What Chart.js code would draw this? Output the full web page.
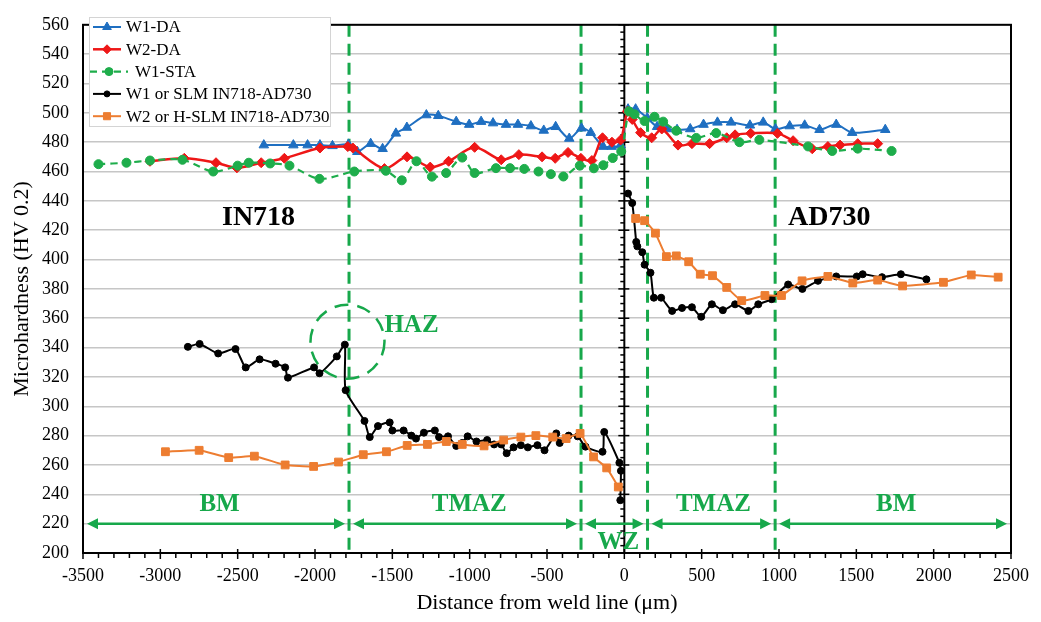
<!DOCTYPE html>
<html>
<head>
<meta charset="utf-8">
<script src="https://cdn.jsdelivr.net/npm/chart.js@4.4.1/dist/chart.umd.min.js"></script>
<style>
  html, body { margin: 0; padding: 0; background: #fff; }
</style>
</head>
<body>
<canvas id="chart" width="1041" height="622"></canvas>
<script>
const SERIF = '"Liberation Serif", "Times New Roman", serif';
const GREEN = '#17a84b';

// W1-DA (blue triangles)
const w1daX = [-2331, -2140, -2048, -1968, -1887, -1784, -1726, -1640, -1563, -1477, -1406, -1280, -1203, -1087, -1003, -926, -849, -765, -688, -604, -521, -444, -356, -277, -217, -137, -82, -24,
  24, 73, 148, 212, 276, 341, 426, 512, 602, 690, 812, 898, 977, 1069, 1166, 1262, 1370, 1473, 1687];
const w1daY = [478, 478, 478, 478, 477.5, 478.5, 473.5, 479, 475.5, 486, 490, 498.5, 498, 494, 492, 494, 493, 492, 492, 491, 488, 490.5, 482.5, 489.5, 486.5, 477, 477, 478,
  502.5, 502.5, 496.5, 490.5, 489, 488.5, 489, 492, 493.5, 493.5, 491.5, 493.5, 489, 491, 491.5, 488.5, 492, 486.5, 488.5];

// W2-DA (red diamonds)
const w2daX = [-3067, -2845, -2640, -2505, -2348, -2198, -1968, -1788, -1755, -1551, -1405, -1255, -1136, -968, -796, -682, -532, -447, -364, -281, -210, -141, -80, -24,
  20, 51, 105, 177, 242, 347, 437, 551, 662, 716, 817, 990, 1091, 1215, 1316, 1395, 1509, 1638];
const w2daY = [467, 469, 466, 462.5, 466, 469, 476, 477, 476, 462, 470, 463, 467, 476.5, 468, 471.5, 470, 469, 473, 469, 467.5, 483, 480, 481.5,
  501, 495.5, 486.5, 483, 489, 478, 479, 479, 483, 485, 486, 486, 481, 475.5, 477, 478, 479, 479];

// W1-STA (green dashed, circles)
const w1staX = [-3400, -3219, -3067, -2857, -2658, -2500, -2428, -2290, -2165, -1971, -1746, -1542, -1439, -1344, -1244, -1152, -1048, -968, -830, -739, -647, -555, -475, -394, -288, -197, -136, -75, -20,
  30, 66, 131, 195, 251, 336, 465, 594, 744, 873, 1188, 1344, 1509, 1728];
const w1staY = [465, 466, 467.5, 468, 460, 464, 466, 465.5, 464, 455, 460, 460.5, 454, 467, 456.5, 459, 469.5, 459, 462.3, 462.3, 461.8, 460, 458.2, 456.6, 464, 462.2, 464.3, 469.2, 473.7,
  501, 499, 494.4, 497.3, 494, 487.8, 482.9, 486.2, 480, 481.6, 477.1, 474, 475.6, 474];

// W1 or SLM IN718-AD730 (black)
const w1X = [-2822, -2746, -2626, -2514, -2448, -2358, -2255, -2193, -2175, -2006, -1971, -1859, -1807, -1802, -1680, -1646, -1593, -1517, -1500, -1427, -1377, -1347, -1296, -1225, -1198, -1140, -1087, -1048, -1013, -956, -887, -842, -796, -761, -716, -669, -624, -562, -516, -440, -418, -360, -302, -251, -141, -130, -32, -22, -26,
  null,
  24, 51, 77, 84, 116, 131, 169, 191, 238, 309, 373, 437, 497, 566, 637, 716, 802, 866, 952, 1059, 1151, 1252, 1370, 1503, 1541, 1666, 1788, 1953];
const w1Y = [340.5, 342.5, 336, 339, 326.5, 332, 329, 326.5, 319.5, 326.5, 322.5, 334, 342, 311, 290, 279, 286.5, 289, 283.5, 283.5, 280, 278, 282, 283.5, 279, 279.5, 273, 275, 279.5, 276, 277, 274, 274, 268, 272, 273.5, 272, 273.5, 270, 281.5, 275, 280, 279.5, 272.5, 269, 282.5, 261.5, 256, 236,
  null,
  445, 438.5, 412, 409, 405, 396.5, 391, 374, 374, 365, 367, 367.5, 361, 369.5, 365.5, 369.5, 365, 369.5, 373, 383, 380, 385.5, 388.5, 388.5, 390, 388, 390, 386.5];

// W2 or H-SLM IN718-AD730 (orange squares)
const w2X = [-2967, -2749, -2558, -2392, -2193, -2009, -1848, -1688, -1538, -1404, -1273, -1151, -1048, -907, -780, -669, -572, -463, -376, -286, -199, -114, -39,
  null,
  73, 131, 201, 272, 336, 416, 491, 570, 662, 759, 909, 1016, 1149, 1316, 1477, 1638, 1799, 2063, 2243, 2417];
const w2Y = [269, 270, 265, 266, 260, 259, 262, 267, 269, 273.3, 274, 276, 274, 273, 277, 279, 280, 279, 278, 281.5, 265.5, 258, 245,
  null,
  428, 426.5, 418, 402, 402.5, 398.5, 390, 389, 381, 372, 375.5, 375.5, 385.5, 388.5, 384, 386, 382, 384.5, 389.5, 388];

// zones
const zoneLines = [-1780, -280, 150, 975];
const zoneEdges = [-3500, -1780, -280, 150, 975, 2500];
const zoneNames = ['BM', 'TMAZ', 'WZ', 'TMAZ', 'BM'];
const zoneNameX = [-2617, -1003, -39, 576, 1758];
const zoneNameY = [233, 233, 207, 233, 233];
const alloyNames = ['IN718', 'AD730'];
const alloyX = [-2365, 1325];
const alloyY = [428.5, 428.5];
const hazCentre = { x: -1790, y: 344, label: 'HAZ', labelX: -1376, labelY: 355 };

const pts = (xs, ys) => xs.map((x, i) => ({ x: x, y: ys[i] }));

const series = [
  { label: 'W1-DA', data: pts(w1daX, w1daY), color: '#1f6fc1', pointStyle: 'triangle', radius: 5.5, width: 2, tension: 0.3, dash: [] },
  { label: 'W2-DA', data: pts(w2daX, w2daY), color: '#ee1717', pointStyle: 'rectRot', radius: 5, width: 2.5, tension: 0.3, dash: [] },
  { label: 'W1-STA', data: pts(w1staX, w1staY), color: '#1ead4b', pointStyle: 'circle', radius: 4.5, width: 2.2, tension: 0.3, dash: [7, 5] },
  { label: 'W1 or SLM IN718-AD730', data: pts(w1X, w1Y), color: '#000000', pointStyle: 'circle', radius: 3.5, width: 2, tension: 0.2, dash: [] },
  { label: 'W2 or H-SLM IN718-AD730', data: pts(w2X, w2Y), color: '#ed7d31', pointStyle: 'rect', radius: 5.5, width: 2, tension: 0.15, dash: [] }
];

const datasets = series.map((s, i) => ({
  label: s.label,
  data: s.data,
  showLine: true,
  borderColor: s.color,
  backgroundColor: s.color,
  borderWidth: s.width,
  borderDash: s.dash,
  tension: s.tension,
  pointStyle: s.pointStyle,
  pointRadius: s.radius,
  pointBorderWidth: 1,
  pointBackgroundColor: s.color,
  pointBorderColor: s.color,
  spanGaps: false,
  order: 4 - i
}));

const overlay = {
  id: 'overlay',
  beforeDatasetsDraw(chart) {
    const { ctx, chartArea: a, scales: { x, y } } = chart;
    ctx.save();
    // vertical axis at the weld line
    const x0 = x.getPixelForValue(0);
    ctx.strokeStyle = '#000';
    ctx.lineWidth = 2;
    ctx.beginPath(); ctx.moveTo(x0, a.top); ctx.lineTo(x0, a.bottom); ctx.stroke();
    ctx.lineWidth = 1.5;
    for (let v = 200; v <= 560; v += 5) {
      const py = y.getPixelForValue(v);
      ctx.beginPath();
      if (v % 20 === 0) { ctx.moveTo(x0 - 6, py); ctx.lineTo(x0 + 5, py); }
      else { ctx.moveTo(x0 - 4, py); ctx.lineTo(x0, py); }
      ctx.stroke();
    }
    // zone boundaries
    ctx.strokeStyle = GREEN;
    ctx.lineWidth = 3;
    ctx.setLineDash([12, 7]);
    zoneLines.forEach(v => {
      const px = x.getPixelForValue(v);
      ctx.beginPath(); ctx.moveTo(px, a.top); ctx.lineTo(px, a.bottom); ctx.stroke();
    });
    ctx.restore();
  },
  afterDatasetsDraw(chart) {
    const { ctx, chartArea: a, scales: { x, y } } = chart;
    ctx.save();
    // zone arrows
    ctx.strokeStyle = GREEN;
    ctx.fillStyle = GREEN;
    ctx.lineWidth = 2.5;
    const ay = y.getPixelForValue(220);
    for (let i = 0; i < zoneEdges.length - 1; i++) {
      const l = x.getPixelForValue(zoneEdges[i]) + 4;
      const r = x.getPixelForValue(zoneEdges[i + 1]) - 4;
      ctx.beginPath(); ctx.moveTo(l + 6, ay); ctx.lineTo(r - 6, ay); ctx.stroke();
      ctx.beginPath(); ctx.moveTo(l, ay); ctx.lineTo(l + 11, ay - 5.5); ctx.lineTo(l + 11, ay + 5.5); ctx.closePath(); ctx.fill();
      ctx.beginPath(); ctx.moveTo(r, ay); ctx.lineTo(r - 11, ay - 5.5); ctx.lineTo(r - 11, ay + 5.5); ctx.closePath(); ctx.fill();
    }
    ctx.textAlign = 'center';
    ctx.textBaseline = 'middle';
    ctx.font = 'bold 25px ' + SERIF;
    zoneNames.forEach((n, i) => ctx.fillText(n, x.getPixelForValue(zoneNameX[i]), y.getPixelForValue(zoneNameY[i])));
    ctx.fillText(hazCentre.label, x.getPixelForValue(hazCentre.labelX), y.getPixelForValue(hazCentre.labelY));
    // HAZ circle
    ctx.setLineDash([14, 9]);
    ctx.beginPath();
    ctx.arc(x.getPixelForValue(hazCentre.x), y.getPixelForValue(hazCentre.y), 37, 0, Math.PI * 2);
    ctx.stroke();
    ctx.setLineDash([]);
    // alloy names
    ctx.fillStyle = '#000';
    ctx.font = 'bold 28px ' + SERIF;
    alloyNames.forEach((n, i) => ctx.fillText(n, x.getPixelForValue(alloyX[i]), y.getPixelForValue(alloyY[i])));
    // frame
    ctx.strokeStyle = '#000';
    ctx.lineWidth = 2;
    ctx.strokeRect(a.left, a.top, a.right - a.left, a.bottom - a.top);
    // x ticks
    ctx.lineWidth = 1.5;
    for (let v = -3500; v <= 2500; v += 100) {
      const px = x.getPixelForValue(v);
      ctx.beginPath();
      if (v % 500 === 0) { ctx.moveTo(px, a.bottom - 4); ctx.lineTo(px, a.bottom + 6); }
      else { ctx.moveTo(px, a.bottom); ctx.lineTo(px, a.bottom + 5); }
      ctx.stroke();
    }
    // legend
    const lx = 89, ly = 17, lw = 241, lh = 109;
    ctx.fillStyle = '#fff';
    ctx.fillRect(lx, ly, lw, lh);
    ctx.strokeStyle = '#d4d4d4';
    ctx.lineWidth = 1;
    ctx.strokeRect(lx + 0.5, ly + 0.5, lw, lh);
    ctx.font = '17px ' + SERIF;
    ctx.textAlign = 'left';
    series.forEach((s, i) => {
      const cy = ly + 10 + i * 22.3;
      const dashed = s.dash.length > 0;
      const x1 = dashed ? lx + 1 : lx + 4, x2 = dashed ? lx + 39 : lx + 32;
      ctx.strokeStyle = s.color;
      ctx.lineWidth = s.width;
      ctx.setLineDash(s.dash);
      ctx.beginPath(); ctx.moveTo(x1, cy); ctx.lineTo(x2, cy); ctx.stroke();
      ctx.setLineDash([]);
      ctx.fillStyle = s.color;
      ctx.lineWidth = 1;
      Chart.helpers.drawPoint(ctx, { pointStyle: s.pointStyle, radius: s.radius - 0.5, rotation: 0, borderWidth: 1 }, (x1 + x2) / 2, cy);
      ctx.fillStyle = '#000';
      ctx.fillText(s.label, dashed ? lx + 46 : lx + 37, cy + 1);
    });
    ctx.restore();
  }
};

new Chart(document.getElementById('chart'), {
  type: 'scatter',
  data: { datasets: datasets },
  options: {
    responsive: false,
    animation: false,
    layout: { padding: { top: 13, right: 25, left: 0, bottom: 0 } },
    plugins: { legend: { display: false }, tooltip: { enabled: false } },
    scales: {
      x: {
        type: 'linear',
        min: -3500,
        max: 2500,
        ticks: {
          stepSize: 500,
          autoSkip: false,
          maxRotation: 0,
          padding: 12,
          color: '#000',
          font: { family: SERIF, size: 18 },
          callback: v => String(v)
        },
        grid: { display: false, drawTicks: false },
        border: { display: false },
        title: {
          display: true,
          text: 'Distance from weld line (\u03bcm)',
          color: '#000',
          font: { family: SERIF, size: 22 },
          padding: { top: 0, bottom: 6 }
        },
        afterFit: s => { s.height = 69; }
      },
      y: {
        min: 200,
        max: 560,
        ticks: {
          stepSize: 20,
          padding: 14,
          color: '#000',
          font: { family: SERIF, size: 18 },
          callback: v => String(v)
        },
        grid: { color: '#c6c6c6', lineWidth: 1.5, drawTicks: false },
        border: { display: false },
        title: {
          display: true,
          text: 'Microhardness (HV 0.2)',
          color: '#000',
          font: { family: SERIF, size: 22 },
          padding: { top: 9, bottom: 0 }
        },
        afterFit: s => { s.width = 83; }
      }
    }
  },
  plugins: [overlay]
});
</script>
</body>
</html>
